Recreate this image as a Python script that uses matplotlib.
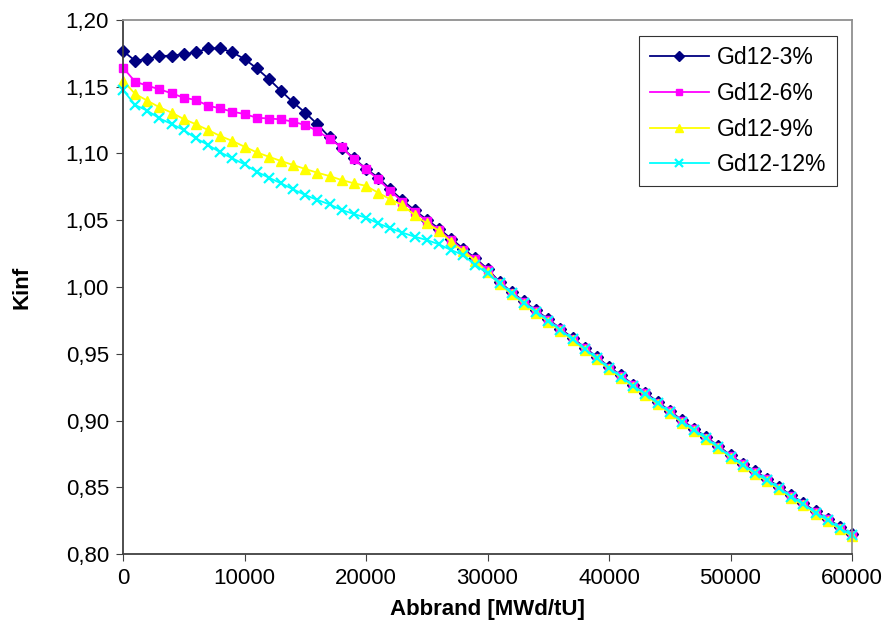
import matplotlib.pyplot as plt
from matplotlib.ticker import FuncFormatter

plt.rcParams['font.family'] = ['Liberation Sans', 'DejaVu Sans']

# Abbrand in MWd/tU
abbrand = list(range(0, 61000, 1000))

gd3 = [1.1768, 1.1695, 1.1708, 1.1730, 1.1733, 1.1743, 1.1758, 1.1788, 1.1788, 1.1758,
       1.1708, 1.1638, 1.1558, 1.1470, 1.1383, 1.1306, 1.1219, 1.1121, 1.1044, 1.0964,
       1.0885, 1.0820, 1.0732, 1.0650, 1.0575, 1.0505, 1.0437, 1.0362, 1.0287, 1.0215,
       1.0135, 1.0037, 0.9962, 0.9892, 0.9825, 0.9758, 0.9688, 0.9618, 0.9546, 0.9476,
       0.9401, 0.9338, 0.9268, 0.9209, 0.9139, 0.9073, 0.9001, 0.8939, 0.8876, 0.8809,
       0.8739, 0.8677, 0.8619, 0.8564, 0.8502, 0.8439, 0.8382, 0.8319, 0.8264, 0.8202,
       0.8150]

gd6 = [1.1643, 1.1538, 1.1508, 1.1481, 1.1451, 1.1418, 1.1401, 1.1358, 1.1338, 1.1313,
       1.1296, 1.1268, 1.1262, 1.1256, 1.1238, 1.1213, 1.1169, 1.1109, 1.1046, 1.0957,
       1.0882, 1.0807, 1.0721, 1.0639, 1.0565, 1.0494, 1.0427, 1.0352, 1.0277, 1.0207,
       1.0127, 1.0032, 0.9957, 0.9887, 0.9820, 0.9753, 0.9683, 0.9613, 0.9541, 0.9471,
       0.9396, 0.9333, 0.9263, 0.9204, 0.9134, 0.9068, 0.8996, 0.8934, 0.8871, 0.8804,
       0.8734, 0.8672, 0.8614, 0.8559, 0.8497, 0.8434, 0.8377, 0.8314, 0.8259, 0.8197,
       0.8145]

gd9 = [1.1546, 1.1446, 1.1396, 1.1346, 1.1306, 1.1258, 1.1219, 1.1176, 1.1131, 1.1094,
       1.1051, 1.1009, 1.0976, 1.0944, 1.0914, 1.0884, 1.0856, 1.0831, 1.0801, 1.0777,
       1.0758, 1.0706, 1.0657, 1.0614, 1.0539, 1.0477, 1.0422, 1.0339, 1.0270, 1.0195,
       1.0112, 1.0020, 0.9945, 0.9875, 0.9808, 0.9741, 0.9671, 0.9601, 0.9529, 0.9459,
       0.9384, 0.9321, 0.9251, 0.9192, 0.9122, 0.9056, 0.8984, 0.8922, 0.8859, 0.8792,
       0.8722, 0.8660, 0.8602, 0.8547, 0.8485, 0.8422, 0.8365, 0.8302, 0.8247, 0.8185,
       0.8133]

gd12 = [1.1476, 1.1363, 1.1321, 1.1263, 1.1221, 1.1176, 1.1114, 1.1064, 1.1009, 1.0964,
        1.0919, 1.0864, 1.0819, 1.0777, 1.0732, 1.0689, 1.0652, 1.0619, 1.0577, 1.0547,
        1.0519, 1.0477, 1.0440, 1.0407, 1.0377, 1.0352, 1.0320, 1.0277, 1.0240, 1.0165,
        1.0102, 1.0027, 0.9952, 0.9882, 0.9815, 0.9748, 0.9678, 0.9608, 0.9536, 0.9466,
        0.9391, 0.9328, 0.9258, 0.9199, 0.9129, 0.9063, 0.8991, 0.8929, 0.8866, 0.8799,
        0.8729, 0.8667, 0.8609, 0.8554, 0.8492, 0.8429, 0.8372, 0.8309, 0.8254, 0.8192,
        0.8140]

labels = ['Gd12-3%', 'Gd12-6%', 'Gd12-9%', 'Gd12-12%']

fig = plt.figure(figsize=(8.9, 6.44), dpi=100)
ax = fig.add_axes([123/890, 1 - 554/644, (852-123)/890, (554-20)/644])

ax.plot(abbrand, gd3, color='#000080', marker='D', markersize=6, lw=1.3, label=labels[0], clip_on=False)
ax.plot(abbrand, gd6, color='#FF00FF', marker='s', markersize=5.5, lw=1.3, label=labels[1], clip_on=False)
ax.plot(abbrand, gd9, color='#FFFF00', marker='^', markersize=7.5, lw=1.3, label=labels[2], clip_on=False)
ax.plot(abbrand, gd12, color='#00FFFF', marker='x', markersize=6.5, mew=1.6, lw=1.3, label=labels[3], clip_on=False)

ax.set_xlim(0, 60000)
ax.set_ylim(0.80, 1.20)
ax.set_xticks(range(0, 60001, 10000))
ax.set_yticks([0.80, 0.85, 0.90, 0.95, 1.00, 1.05, 1.10, 1.15, 1.20])
ax.yaxis.set_major_formatter(FuncFormatter(lambda v, p: ('%.2f' % v).replace('.', ',')))
ax.tick_params(labelsize=16, direction='out', length=5, color='#404040', pad=5)

for s in ['left', 'bottom']:
    ax.spines[s].set_color('#404040')
    ax.spines[s].set_linewidth(1.3)
for s in ['top', 'right']:
    ax.spines[s].set_color('#909090')
    ax.spines[s].set_linewidth(1.3)

ax.set_xlabel('Abbrand [MWd/tU]', fontsize=16, fontweight='bold', labelpad=7)
ax.set_ylabel('Kinf', fontsize=16, fontweight='bold', labelpad=24)

leg = ax.legend(loc='upper right', bbox_to_anchor=(837/890, 1 - 36/644), bbox_transform=fig.transFigure,
                fontsize=16.5, frameon=True, fancybox=False, handlelength=2.6, handletextpad=0.35,
                borderpad=0.45, borderaxespad=0, labelspacing=0.55, markerscale=0.85)
leg.get_frame().set_edgecolor('black')
leg.get_frame().set_linewidth(0.8)

fig.savefig('out.png', dpi=100)
